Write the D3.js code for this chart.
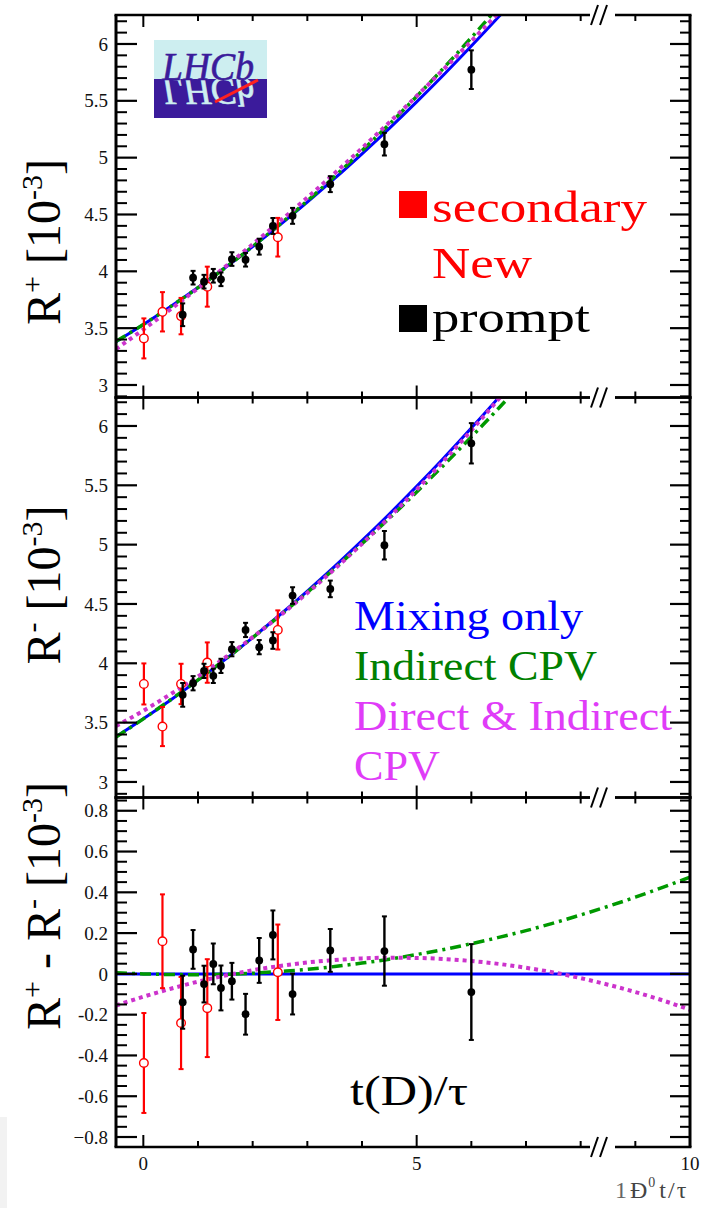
<!DOCTYPE html>
<html><head><meta charset="utf-8">
<script src="https://cdn.jsdelivr.net/npm/d3@7"></script>
<style>body{margin:0;background:#fff}svg{display:block}</style>
</head><body>
<svg id="c" width="706" height="1208"></svg>
<script>
// ---------------- DATA ----------------
// model curves for R+ and R- panels (t/tau grid)
const tR = [-0.5,0,0.5,1,1.5,2,2.5,3,3.5,4,4.5,5,5.5,6,6.5,7];
const mixRp = [3.381,3.532,3.691,3.858,4.033,4.217,4.409,4.609,4.817,5.034,5.258,5.491,5.732,5.982,6.239,6.505];
const indRp = [3.384,3.532,3.690,3.856,4.032,4.219,4.415,4.620,4.835,5.061,5.294,5.539,5.792,6.056,6.329,6.611];
const dirRp = [3.316,3.488,3.667,3.851,4.041,4.238,4.441,4.649,4.863,5.084,5.310,5.542,5.781,6.026,6.276,6.532];
const mixRm = [3.381,3.532,3.691,3.858,4.033,4.217,4.409,4.609,4.817,5.034,5.258,5.491,5.732,5.982,6.239,6.505];
const indRm = [3.378,3.532,3.693,3.860,4.034,4.216,4.403,4.598,4.799,5.008,5.222,5.444,5.672,5.908,6.150,6.399];
const dirRm = [3.471,3.600,3.740,3.889,4.049,4.220,4.402,4.593,4.795,5.008,5.231,5.464,5.708,5.963,6.227,6.502];
// difference panel curves
const tD = [-0.5,0,0.5,1,1.5,2,2.5,3,3.5,4,4.5,5,5.5,6,6.5,7,7.5,8,8.5,9,9.5,10];
const mixD = [0,0,0,0,0,0,0,0,0,0,0,0,0,0,0,0,0,0,0,0,0,0];
const indD = [0.006,0,-0.003,-0.004,-0.002,0.003,0.012,0.022,0.036,0.053,0.072,0.095,0.120,0.148,0.179,0.212,0.249,0.289,0.331,0.376,0.424,0.475];
const dirD = [-0.155,-0.112,-0.073,-0.038,-0.008,0.018,0.039,0.056,0.068,0.076,0.079,0.078,0.073,0.063,0.049,0.030,0.007,-0.021,-0.053,-0.089,-0.130,-0.176];

// secondary (new) data points
const secT    = [0.01,0.35,0.69,1.17,2.46];
const secRp   = [3.41,3.644,3.606,3.865,4.30];
const secRpE  = [0.176,0.173,0.16,0.176,0.17];
const secRm   = [3.826,3.467,3.826,4.006,4.281];
const secRmE  = [0.173,0.165,0.17,0.17,0.165];
const secD    = [-0.437,0.16,-0.241,-0.168,0.008];
const secDE   = [0.245,0.23,0.226,0.24,0.234];

// prompt data points
const prT    = [0.72,0.91,1.11,1.28,1.42,1.62,1.87,2.12,2.37,2.73,3.42,4.41,6.0];
const prRp   = [3.618,3.944,3.909,3.961,3.93,4.108,4.102,4.217,4.399,4.488,4.767,5.119,5.774];
const prRpE  = [0.1,0.06,0.06,0.06,0.06,0.06,0.06,0.07,0.07,0.07,0.07,0.1,0.17];
const prRm   = [3.734,3.832,3.936,3.894,3.978,4.119,4.281,4.136,4.192,4.571,4.627,4.995,5.854];
const prRmE  = [0.1,0.06,0.06,0.06,0.06,0.06,0.06,0.06,0.07,0.07,0.07,0.12,0.17];
const prD    = [-0.139,0.12,-0.05,0.049,-0.069,-0.036,-0.198,0.066,0.191,-0.099,0.115,0.112,-0.089];
const prDE   = [0.13,0.095,0.09,0.1,0.11,0.09,0.1,0.11,0.12,0.1,0.105,0.17,0.235];

// ticks
const xTicks = [0,1,2,3,4,5,6,7,8,9,10];
const xMajor = [0,5,10];
const xTickLabels = ["0","5","10"];
const yTicksR = [3,3.5,4,4.5,5,5.5,6];
const yTickLabelsR = ["3","3.5","4","4.5","5","5.5","6"];
const yTicksD = [-0.8,-0.6,-0.4,-0.2,0,0.2,0.4,0.6,0.8];
const yTickLabelsD = ["\u22120.8","-0.6","-0.4","-0.2","0","0.2","0.4","0.6","0.8"];

// ---------------- DRAW ----------------
const svg = d3.select('#c');
const FONT = "'Liberation Serif', 'Times New Roman', serif";
const X0 = 116, X1 = 690;
const x = d3.scaleLinear().domain([-0.5,10]).range([X0,X1]);

const COL = {mix:'#0000ff', ind:'#009900', dir:'#cc33cc'};

const panels = [
  {top:15, bot:397.5, dom:[2.89,6.255], major:yTicksR, labels:yTickLabelsR, minorStep:0.1,
   curves:[[tR,mixRp],[tR,indRp],[tR,dirRp]], sec:[secRp,secRpE], pr:[prRp,prRpE]},
  {top:397.5, bot:797.5, dom:[2.869,6.24], major:yTicksR, labels:yTickLabelsR, minorStep:0.1,
   curves:[[tR,mixRm],[tR,indRm],[tR,dirRm]], sec:[secRm,secRmE], pr:[prRm,prRmE]},
  {top:797.5, bot:1147, dom:[-0.849,0.865], major:yTicksD, labels:yTickLabelsD, minorStep:0.05,
   curves:[[tD,mixD],[tD,indD],[tD,dirD]], sec:[secD,secDE], pr:[prD,prDE]}
];

// faint grey block bottom-left
svg.append('rect').attr('x',0).attr('y',1117).attr('width',7).attr('height',91).attr('fill','#f2f2f2');

const defs = svg.append('defs');
const styles = [
  {c:COL.mix, w:3, d:null},
  {c:COL.ind, w:3.5, d:'11,5,3,5'},
  {c:COL.dir, w:4, d:'4,4'}
];

panels.forEach((p,i) => {
  const y = d3.scaleLinear().domain(p.dom).range([p.bot,p.top]);
  defs.append('clipPath').attr('id','clip'+i).append('rect')
    .attr('x',X0).attr('y',p.top).attr('width',X1-X0).attr('height',p.bot-p.top);
  const g = svg.append('g');
  const gc = g.append('g').attr('clip-path','url(#clip'+i+')');

  // curves
  p.curves.forEach((cv,k) => {
    const pts = cv[0].map((t,j)=>[t,cv[1][j]]);
    const line = d3.line().x(d=>x(d[0])).y(d=>y(d[1])).curve(d3.curveMonotoneX);
    const path = gc.append('path').attr('d',line(pts)).attr('fill','none')
      .attr('stroke',styles[k].c).attr('stroke-width',styles[k].w);
    if (styles[k].d) path.attr('stroke-dasharray',styles[k].d);
  });

  // secondary points (red open circles)
  secT.forEach((t,j) => {
    const v = p.sec[0][j], e = p.sec[1][j];
    const cx = x(t);
    g.append('line').attr('x1',cx).attr('x2',cx).attr('y1',y(v+e)).attr('y2',y(v-e))
      .attr('stroke','#ff0000').attr('stroke-width',2.2);
    [v+e,v-e].forEach(vv => g.append('line').attr('x1',cx-2.5).attr('x2',cx+2.5)
      .attr('y1',y(vv)).attr('y2',y(vv)).attr('stroke','#ff0000').attr('stroke-width',2));
    g.append('circle').attr('cx',cx).attr('cy',y(v)).attr('r',4.3)
      .attr('fill','#fff').attr('stroke','#ff0000').attr('stroke-width',1.4);
  });
  // prompt points (black filled)
  prT.forEach((t,j) => {
    const v = p.pr[0][j], e = p.pr[1][j];
    const cx = x(t);
    g.append('line').attr('x1',cx).attr('x2',cx).attr('y1',y(v+e)).attr('y2',y(v-e))
      .attr('stroke','#000').attr('stroke-width',2.4);
    [v+e,v-e].forEach(vv => g.append('line').attr('x1',cx-2.5).attr('x2',cx+2.5)
      .attr('y1',y(vv)).attr('y2',y(vv)).attr('stroke','#000').attr('stroke-width',2));
    g.append('circle').attr('cx',cx).attr('cy',y(v)).attr('r',3.9).attr('fill','#000');
  });

  // y ticks
  p.major.forEach((v,j) => {
    g.append('line').attr('x1',X0).attr('x2',X0+21).attr('y1',y(v)).attr('y2',y(v)).attr('stroke','#000').attr('stroke-width',2.2);
    g.append('line').attr('x1',X1-20).attr('x2',X1).attr('y1',y(v)).attr('y2',y(v)).attr('stroke','#000').attr('stroke-width',2.2);
    g.append('text').attr('x',108).attr('y',y(v)).attr('dy','0.35em').attr('text-anchor','end')
      .attr('font-family',FONT).attr('font-size',19).attr('fill','#111').text(p.labels[j]);
  });
  const st = p.minorStep;
  for (let k = Math.ceil(p.dom[0]/st); k*st <= p.dom[1]; k++) {
    const v = +(k*st).toFixed(3);
    if (p.major.some(m => Math.abs(m-v) < 1e-6)) continue;
    g.append('line').attr('x1',X0).attr('x2',X0+11).attr('y1',y(v)).attr('y2',y(v)).attr('stroke','#000').attr('stroke-width',2);
    g.append('line').attr('x1',X1-10).attr('x2',X1).attr('y1',y(v)).attr('y2',y(v)).attr('stroke','#000').attr('stroke-width',2);
  }
  // x ticks on top (down) and bottom (up)
  xTicks.forEach(t => {
    const L = xMajor.includes(t) ? 12 : 6;
    g.append('line').attr('x1',x(t)).attr('x2',x(t)).attr('y1',p.top).attr('y2',p.top+L).attr('stroke','#000').attr('stroke-width',2);
    g.append('line').attr('x1',x(t)).attr('x2',x(t)).attr('y1',p.bot).attr('y2',p.bot-L).attr('stroke','#000').attr('stroke-width',2);
  });
  // frame
  g.append('line').attr('x1',X0).attr('x2',X0).attr('y1',p.top).attr('y2',p.bot).attr('stroke','#000').attr('stroke-width',3);
  g.append('line').attr('x1',X1).attr('x2',X1).attr('y1',p.top).attr('y2',p.bot).attr('stroke','#000').attr('stroke-width',3);
  [p.top,p.bot].forEach(yy => g.append('line').attr('x1',X0-1.5).attr('x2',X1+1.5).attr('y1',yy).attr('y2',yy).attr('stroke','#000').attr('stroke-width',2.5));
});

// axis-break marks
[15,397.5,797.5,1147].forEach(yy => {
  svg.append('rect').attr('x',590).attr('y',yy-3).attr('width',25).attr('height',6).attr('fill','#fff');
  [591,600].forEach(xx => svg.append('line').attr('x1',xx).attr('y1',yy+10).attr('x2',xx+7).attr('y2',yy-10)
    .attr('stroke','#000').attr('stroke-width',2));
});

// x tick labels
xMajor.forEach((t,j) => {
  svg.append('text').attr('x',x(t)).attr('y',1170).attr('text-anchor','middle')
    .attr('font-family',FONT).attr('font-size',19).attr('fill','#111').text(xTickLabels[j]);
});

// y axis titles
function yTitle(cx, cy, parts) {
  const t = svg.append('text').attr('transform',`translate(${cx},${cy}) rotate(-90)`)
    .attr('text-anchor','middle').attr('font-family',FONT).attr('font-size',48).attr('fill','#000');
  parts.forEach(pt => {
    const s = t.append('tspan').text(pt[0]);
    if (pt[1]) s.attr('font-size',30).attr('dy',-18);
    if (pt[2]) s.attr('dy',18);
  });
}
yTitle(60,242,[["R"],["+",1],[" [10",0,1],["-3",1],["]",0,1]]);
yTitle(60,585,[["R"],["-",1],[" [10",0,1],["-3",1],["]",0,1]]);
yTitle(60,906,[["R"],["+",1],[" - R",0,1],["-",1],[" [10",0,1],["-3",1],["]",0,1]]);

// legends
function ltext(str, xx, yy, col, len, fs) {
  svg.append('text').attr('x',xx).attr('y',yy).attr('font-family',FONT).attr('font-size',fs||44)
    .attr('fill',col).attr('textLength',len).attr('lengthAdjust','spacingAndGlyphs').text(str);
}
svg.append('rect').attr('x',399).attr('y',191).attr('width',28).attr('height',27).attr('fill','#ff0000');
svg.append('rect').attr('x',399).attr('y',305).attr('width',28).attr('height',27).attr('fill','#000');
ltext('secondary',432,222,'#ff0000',215);
ltext('New',432,278,'#ff0000',100);
ltext('prompt',432,332,'#000',158);
ltext('Mixing only',354,630,'#0000ff',229,42);
ltext('Indirect CPV',354,680,'#008000',243,42);
ltext('Direct & Indirect',354,730,'#e03cf8',318,42);
ltext('CPV',354,780,'#e03cf8',86,42);
ltext('t(D)/\u03c4',350,1105,'#000',118,42);

// LHCb logo: the word and its mirrored reflection, both drawn from one text definition
svg.append('rect').attr('x',154).attr('y',40).attr('width',113).attr('height',39).attr('fill','#cdeef0');
svg.append('rect').attr('x',154).attr('y',79).attr('width',113).attr('height',39).attr('fill','#3b1b9b');
defs.append('text').attr('id','lhcbTxt').attr('x',162).attr('y',80).attr('font-family',FONT).attr('font-style','italic')
  .attr('font-size',40).attr('stroke-width',0.6)
  .attr('textLength',92).attr('lengthAdjust','spacingAndGlyphs').text('LHCb');
defs.append('clipPath').attr('id','logoTop').append('rect').attr('x',154).attr('y',40).attr('width',113).attr('height',39);
defs.append('clipPath').attr('id','logoBot').append('rect').attr('x',154).attr('y',79).attr('width',113).attr('height',39);
svg.append('g').attr('clip-path','url(#logoBot)').append('use').attr('href','#lhcbTxt')
  .attr('transform','translate(0,158) scale(1,-1)').attr('fill','#cdeef0').attr('stroke','#cdeef0');
svg.append('use').attr('href','#lhcbTxt').attr('fill','#3b1b9b').attr('stroke','#3b1b9b');
svg.append('line').attr('x1',215).attr('y1',102).attr('x2',258).attr('y2',80).attr('stroke','#ff2020').attr('stroke-width',3);

// bottom-right garbled axis label (single text element)
const bl = svg.append('text').attr('x',615).attr('y',1198).attr('font-family',FONT).attr('font-size',24).attr('fill','#555');
bl.append('tspan').attr('fill','#666').text('1');
bl.append('tspan').attr('dx',3).attr('fill','#444').text('\u0110');
bl.append('tspan').attr('dx',1).attr('dy',-11).attr('font-size',14).attr('fill','#444').text('0');
bl.append('tspan').attr('dx',4).attr('dy',11).attr('letter-spacing',2).attr('fill','#444').text('t/\u03c4');
</script>
</body></html>
